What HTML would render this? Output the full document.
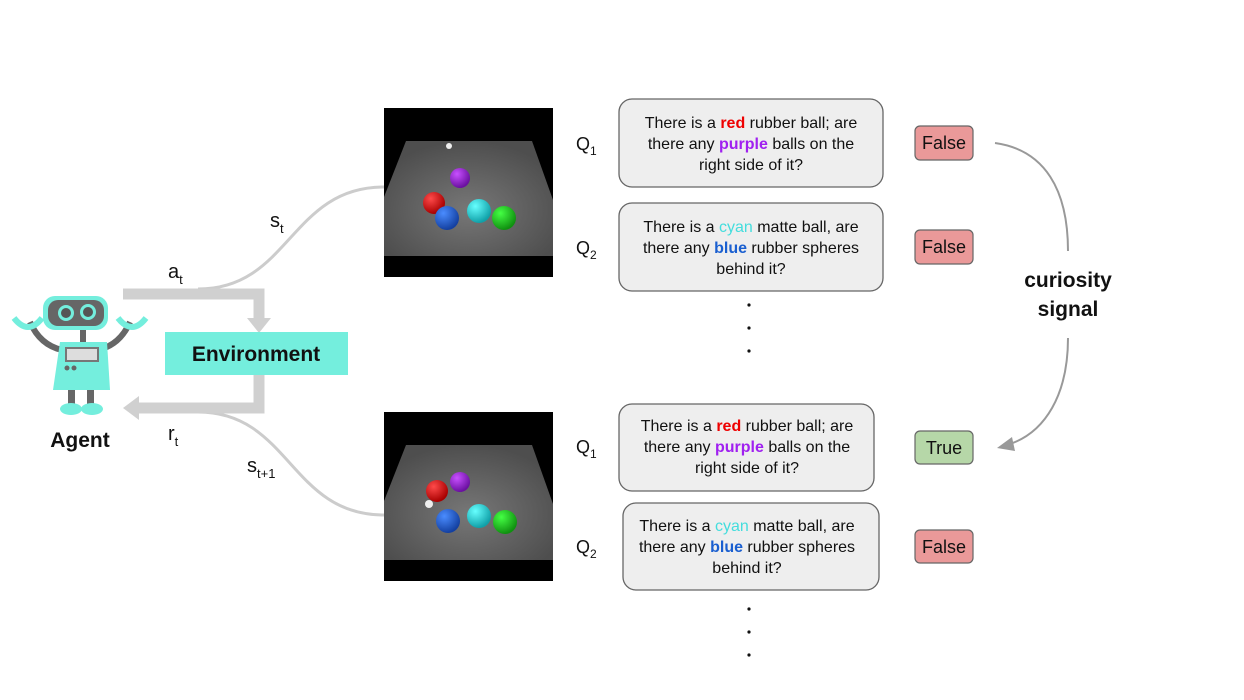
<!DOCTYPE html>
<html><head><meta charset="utf-8"><style>
body{margin:0;background:#fff;}
svg{display:block;font-family:"Liberation Sans","DejaVu Sans",sans-serif;}
.q{font-size:16px;fill:#111;}
</style></head><body>
<svg width="1244" height="700" viewBox="0 0 1244 700" xmlns="http://www.w3.org/2000/svg">
<defs>
<radialGradient id="fl" cx="0.5" cy="0.6" r="0.6"><stop offset="0" stop-color="#777"/><stop offset="1" stop-color="#4e4e4e"/></radialGradient>
<radialGradient id="br" cx="0.35" cy="0.3" r="0.7"><stop offset="0" stop-color="#ff4a4a"/><stop offset="1" stop-color="#a80000"/></radialGradient>
<radialGradient id="bb" cx="0.35" cy="0.3" r="0.7"><stop offset="0" stop-color="#4a8cff"/><stop offset="1" stop-color="#1440a0"/></radialGradient>
<radialGradient id="bc" cx="0.35" cy="0.3" r="0.7"><stop offset="0" stop-color="#6ff"/><stop offset="1" stop-color="#10a0a8"/></radialGradient>
<radialGradient id="bg" cx="0.35" cy="0.3" r="0.7"><stop offset="0" stop-color="#4f4"/><stop offset="1" stop-color="#109010"/></radialGradient>
<radialGradient id="bp" cx="0.35" cy="0.3" r="0.7"><stop offset="0" stop-color="#c850ff"/><stop offset="1" stop-color="#6a10a0"/></radialGradient>
</defs>

<!-- curves -->
<path d="M198 289 C290 289 290 187 384 187" fill="none" stroke="#ccc" stroke-width="3"/>
<path d="M198 412 C290 412 290 515 384 515" fill="none" stroke="#ccc" stroke-width="3"/>

<!-- loop arrows -->
<path d="M123 294 H259 V322" fill="none" stroke="#d0d0d0" stroke-width="11"/>
<polygon points="247,318 271,318 259,333" fill="#d0d0d0"/>
<path d="M259 373 V408 H136" fill="none" stroke="#d0d0d0" stroke-width="11"/>
<polygon points="123,408 139,396 139,420" fill="#d0d0d0"/>

<rect x="165" y="332" width="183" height="43" fill="#74eedd"/>
<text x="256" y="361" text-anchor="middle" font-size="21" font-weight="bold" fill="#111">Environment</text>

<text x="168" y="278" font-size="20" fill="#111">a<tspan font-size="13" dy="6">t</tspan></text>
<text x="270" y="227" font-size="20" fill="#111">s<tspan font-size="13" dy="6">t</tspan></text>
<text x="168" y="440" font-size="20" fill="#111">r<tspan font-size="13" dy="6">t</tspan></text>
<text x="247" y="472" font-size="20" fill="#111">s<tspan font-size="13" dy="6">t+1</tspan></text>

<!-- robot -->
<g>
<path d="M30 322 Q40 345 62 350" stroke="#666" stroke-width="6" fill="none"/>
<path d="M130 322 Q120 345 98 350" stroke="#666" stroke-width="6" fill="none"/>
<path d="M14 318 Q28 336 42 318" stroke="#74eedd" stroke-width="6" fill="none"/>
<path d="M118 318 Q132 336 146 318" stroke="#74eedd" stroke-width="6" fill="none"/>
<rect x="80" y="325" width="6" height="20" fill="#666"/>
<rect x="43" y="296" width="65" height="34" rx="12" fill="#74eedd"/>
<rect x="48" y="300" width="56" height="26" rx="10" fill="#666"/>
<circle cx="66" cy="313" r="8" fill="#74eedd"/><circle cx="66" cy="313" r="5" fill="#555"/>
<circle cx="88" cy="312" r="8" fill="#74eedd"/><circle cx="88" cy="312" r="5" fill="#555"/>
<polygon points="60,342 107,342 110,390 53,390" fill="#74eedd"/>
<rect x="65" y="347" width="34" height="15" fill="#777"/><rect x="67" y="349" width="30" height="11" fill="#ddd"/>
<circle cx="67" cy="368" r="2.5" fill="#666"/><circle cx="74" cy="368" r="2.5" fill="#666"/>
<rect x="68" y="390" width="7" height="14" fill="#666"/><rect x="87" y="390" width="7" height="14" fill="#666"/>
<ellipse cx="71" cy="409" rx="11" ry="6" fill="#74eedd"/><ellipse cx="92" cy="409" rx="11" ry="6" fill="#74eedd"/>
</g>
<text x="80" y="447" text-anchor="middle" font-size="21" font-weight="bold" fill="#111">Agent</text>

<!-- scene 1 -->
<rect x="384" y="108" width="169" height="169" fill="#000"/>
<polygon points="406,141 532,141 553,200 553,256 384,256 384,197" fill="url(#fl)"/>
<circle cx="449" cy="146" r="3" fill="#eee"/>
<circle cx="460" cy="178" r="10" fill="url(#bp)"/>
<circle cx="434" cy="203" r="11" fill="url(#br)"/>
<circle cx="447" cy="218" r="12" fill="url(#bb)"/>
<circle cx="479" cy="211" r="12" fill="url(#bc)"/>
<circle cx="504" cy="218" r="12" fill="url(#bg)"/>

<!-- scene 2 -->
<rect x="384" y="412" width="169" height="169" fill="#000"/>
<polygon points="406,445 532,445 553,504 553,560 384,560 384,501" fill="url(#fl)"/>
<circle cx="460" cy="482" r="10" fill="url(#bp)"/>
<circle cx="437" cy="491" r="11" fill="url(#br)"/>
<circle cx="429" cy="504" r="4" fill="#eee"/>
<circle cx="448" cy="521" r="12" fill="url(#bb)"/>
<circle cx="479" cy="516" r="12" fill="url(#bc)"/>
<circle cx="505" cy="522" r="12" fill="url(#bg)"/>

<!-- Q labels -->
<g font-size="18" fill="#111">
<text x="576" y="150">Q<tspan font-size="12" dy="5">1</tspan></text>
<text x="576" y="254">Q<tspan font-size="12" dy="5">2</tspan></text>
<text x="576" y="453">Q<tspan font-size="12" dy="5">1</tspan></text>
<text x="576" y="553">Q<tspan font-size="12" dy="5">2</tspan></text>
</g>

<!-- boxes -->
<g fill="#eee" stroke="#666" stroke-width="1.3">
<rect x="619" y="99" width="264" height="88" rx="13"/>
<rect x="619" y="203" width="264" height="88" rx="13"/>
<rect x="619" y="404" width="255" height="87" rx="13"/>
<rect x="623" y="503" width="256" height="87" rx="13"/>
</g>
<g class="q" text-anchor="middle">
<text x="751" y="128">There is a <tspan fill="#e00" font-weight="bold">red</tspan> rubber ball; are</text>
<text x="751" y="149">there any <tspan fill="#a020f0" font-weight="bold">purple</tspan> balls on the</text>
<text x="751" y="170">right side of it?</text>
<text x="751" y="232">There is a <tspan fill="#4dd">cyan</tspan> matte ball, are</text>
<text x="751" y="253">there any <tspan fill="#1a5fd0" font-weight="bold">blue</tspan> rubber spheres</text>
<text x="751" y="274">behind it?</text>
<text x="747" y="431">There is a <tspan fill="#e00" font-weight="bold">red</tspan> rubber ball; are</text>
<text x="747" y="452">there any <tspan fill="#a020f0" font-weight="bold">purple</tspan> balls on the</text>
<text x="747" y="473">right side of it?</text>
<text x="747" y="531">There is a <tspan fill="#4dd">cyan</tspan> matte ball, are</text>
<text x="747" y="552">there any <tspan fill="#1a5fd0" font-weight="bold">blue</tspan> rubber spheres</text>
<text x="747" y="573">behind it?</text>
</g>
<g fill="#111">
<circle cx="749" cy="305" r="1.6"/><circle cx="749" cy="328" r="1.6"/><circle cx="749" cy="351" r="1.6"/>
<circle cx="749" cy="609" r="1.6"/><circle cx="749" cy="632" r="1.6"/><circle cx="749" cy="655" r="1.6"/>
</g>

<!-- badges -->
<g stroke="#666" stroke-width="1.2">
<rect x="915" y="126" width="58" height="34" rx="5" fill="#ea9999"/>
<rect x="915" y="230" width="58" height="34" rx="5" fill="#ea9999"/>
<rect x="915" y="431" width="58" height="33" rx="5" fill="#b6d7a8"/>
<rect x="915" y="530" width="58" height="33" rx="5" fill="#ea9999"/>
</g>
<g font-size="18" fill="#111" text-anchor="middle">
<text x="944" y="149">False</text>
<text x="944" y="253">False</text>
<text x="944" y="454">True</text>
<text x="944" y="553">False</text>
</g>

<!-- curiosity -->
<path d="M995 143 C1045 150 1068 190 1068 251" fill="none" stroke="#999" stroke-width="2"/>
<path d="M1068 338 C1068 395 1045 432 1010 444" fill="none" stroke="#999" stroke-width="2"/>
<polygon points="997,448 1012,437 1015,451" fill="#999"/>
<text x="1068" y="287" text-anchor="middle" font-size="21" font-weight="bold" fill="#111">curiosity</text>
<text x="1068" y="316" text-anchor="middle" font-size="21" font-weight="bold" fill="#111">signal</text>
</svg>
</body></html>
